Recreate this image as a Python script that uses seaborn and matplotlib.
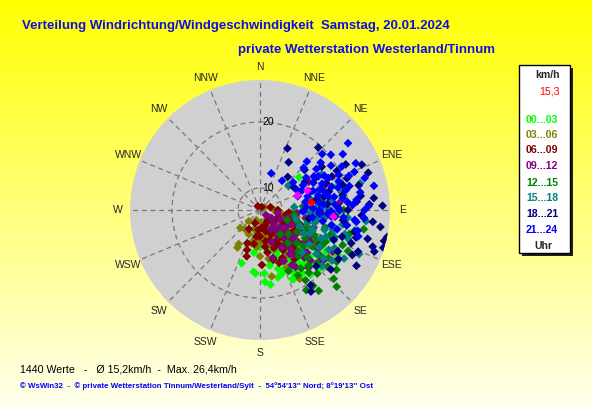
import numpy as np
import pandas as pd
import matplotlib
matplotlib.use("Agg")
import matplotlib.pyplot as plt
from matplotlib.patches import Rectangle
from matplotlib.transforms import offset_copy
import seaborn as sns

# wind direction (deg) / speed (km/h), grouped by hour
wind_00_03 = [(199, 16.0), (184, 17.0), (186, 16.8), (176, 17.0), (176, 18.1), (169, 13.8), (159, 15.2),
              (163, 16.7), (145, 16.3), (148, 16.0), (150, 16.6), (143, 15.8), (155, 18.6), (134, 16.3),
              (138, 17.0), (154, 18.7), (152, 17.8), (142, 19.3), (132, 18.8), (120, 20.2), (197, 9.6),
              (50, 15.2), (72, 19.3), (160, 14.5), (150, 14.8), (140, 14.5), (130, 15.5), (125, 17.5),
              (128, 14.0), (165, 17.8), (170, 16.0), (146, 17.4), (136, 18.2), (158, 17.0), (118, 16.0),
              (112, 18.5), (140, 16.2), (150, 13.5), (162, 12.5), (180, 13.0), (188, 14.0), (192, 12.0),
              (147, 16.8), (152, 16.2), (144, 17.2), (149, 15.6), (141, 17.8), (156, 16.0), (161, 17.5),
              (146, 18.6), (138, 15.5), (133, 17.6), (127, 16.5), (122, 18.8), (157, 14.2), (167, 15.5),
              (172, 18.5), (135, 19.5)]
wind_03_06 = [(211, 14.1), (195, 9.6), (177, 12.3), (165, 15.0), (170, 15.0), (150, 19.0), (212, 13.5),
              (205, 11.0), (190, 11.5), (180, 10.5), (160, 11.0), (150, 10.0), (140, 11.5), (130, 12.5),
              (120, 12.0), (110, 12.8), (100, 13.0), (95, 12.2), (105, 10.5), (135, 9.0), (155, 8.0),
              (175, 7.5), (200, 7.0), (225, 8.5), (120, 9.0), (145, 13.5), (160, 13.8), (135, 14.5),
              (125, 14.0), (115, 15.0), (150, 15.5), (140, 16.5), (165, 12.5), (185, 13.0), (90, 8.0),
              (60, 5.0), (228, 11.0), (218, 10.5), (170, 17.5), (155, 17.0), (145, 10.5), (130, 10.0),
              (115, 11.5), (125, 9.5), (150, 12.0), (170, 11.0), (185, 11.5), (140, 12.8), (160, 9.5),
              (100, 10.0), (195, 12.5), (180, 14.5)]
wind_06_09 = [(201, 12.7), (198, 13.8), (196, 14.8), (178, 15.8), (190, 12.5), (180, 11.0), (170, 12.0),
              (165, 10.0), (155, 11.0), (150, 12.5), (145, 10.5), (140, 13.0), (135, 12.0), (130, 14.0),
              (125, 11.5), (120, 13.5), (115, 12.5), (110, 14.0), (140, 15.5), (150, 14.5), (160, 13.5),
              (170, 14.0), (185, 9.5), (200, 8.0), (160, 8.5), (130, 9.0), (110, 9.5), (90, 9.0), (75, 7.0),
              (30, 4.0), (330, 4.5), (100, 11.0), (145, 16.5), (135, 17.0), (125, 16.0), (155, 15.5),
              (120, 17.5), (210, 10.0), (175, 9.0), (150, 8.0), (140, 7.5), (115, 15.5), (105, 13.0),
              (95, 11.5), (160, 16.0), (132, 12.8), (142, 12.0), (152, 13.2), (162, 12.0), (172, 13.0),
              (127, 13.2), (137, 15.0), (147, 14.0), (118, 11.0), (105, 12.0), (188, 11.0), (165, 15.3)]
wind_09_12 = [(130, 6.0), (125, 8.0), (135, 9.5), (130, 11.0), (128, 12.5), (135, 13.5), (130, 15.0),
              (138, 16.0), (132, 17.0), (135, 18.0), (140, 18.5), (128, 18.8), (122, 16.5), (118, 14.5),
              (112, 13.0), (105, 11.5), (100, 9.0), (145, 12.0), (150, 14.0), (155, 16.0), (148, 17.5),
              (160, 12.5), (120, 19.5), (115, 17.5), (108, 16.0), (100, 14.5), (95, 13.0), (90, 16.0),
              (80, 14.5), (70, 17.5), (60, 16.0), (85, 19.0), (142, 14.8), (125, 14.0), (128, 19.2),
              (150, 17.0), (150, 10.0), (115, 10.0), (110, 18.5), (140, 11.0), (165, 15.0), (126, 15.8),
              (133, 16.5), (137, 17.2), (124, 17.8), (131, 19.0), (119, 16.0), (127, 12.0), (143, 16.0),
              (133, 14.2), (117, 12.0), (139, 13.2), (146, 15.5)]
wind_12_15 = [(100.5, 21.9), (133, 21.4), (144, 21.3), (145, 20.5), (139, 18.3), (138, 19.7), (110, 15.0),
              (115, 16.5), (120, 18.0), (125, 17.0), (130, 16.0), (105, 17.5), (112, 19.0), (118, 20.0),
              (125, 19.5), (130, 20.0), (135, 17.5), (140, 16.5), (145, 18.0), (150, 18.5), (100, 16.0),
              (95, 18.0), (108, 13.5), (120, 14.0), (130, 13.0), (140, 14.0), (128, 21.0), (115, 21.0),
              (105, 20.5), (90, 19.5), (80, 17.0), (70, 15.5), (85, 14.0), (150, 20.5), (135, 22.2),
              (110, 11.5), (140, 12.0), (98, 12.5), (155, 17.5), (112, 16.0), (118, 17.0), (122, 15.5),
              (127, 18.5), (133, 18.8), (137, 16.0), (142, 19.0), (108, 18.5), (102, 14.8), (116, 18.2),
              (124, 20.5), (132, 15.0), (147, 19.5), (113, 20.2)]
wind_15_18 = [(75, 21.7), (90, 14.0), (95, 15.5), (100, 17.0), (105, 18.5), (110, 16.0), (115, 17.5),
              (120, 19.0), (125, 16.5), (100, 19.5), (108, 20.5), (95, 20.0), (88, 17.5), (92, 18.8),
              (112, 14.0), (118, 15.0), (128, 18.0), (132, 19.5), (104, 13.0), (85, 12.5), (80, 15.5),
              (72, 16.5), (65, 14.0), (60, 18.0), (78, 19.5), (102, 21.0), (96, 22.0), (114, 22.2),
              (120, 21.0), (125, 20.0), (110, 19.0), (98, 16.0), (135, 16.5), (50, 13.0), (105, 15.0),
              (97, 17.2), (103, 16.0), (107, 17.5), (112, 18.0), (117, 19.5), (122, 17.8), (93, 15.0),
              (88, 16.0), (83, 18.0), (102, 18.3), (115, 15.8), (127, 19.0), (106, 20.0)]
wind_18_21 = [(24, 17.5), (31, 15.9), (43, 19.7), (71, 22.8), (84, 22.8), (88, 23.6), (96, 22.7), (102, 24.3),
              (104, 24.1), (108, 23.2), (106, 21.3), (116, 21.6), (148, 20.9), (146, 20.3), (56, 13.6),
              (60, 17.0), (65, 19.0), (70, 20.5), (75, 18.0), (80, 19.5), (85, 21.0), (90, 20.0), (95, 18.5),
              (100, 20.0), (105, 22.5), (110, 21.0), (112, 19.0), (118, 20.0), (120, 22.5), (122, 20.5),
              (92, 16.5), (80, 16.0), (70, 15.5), (62, 21.0), (55, 18.5), (48, 16.5), (40, 14.0), (98, 23.5),
              (110, 23.5), (107, 24.2), (130, 20.5), (135, 19.0), (85, 17.5), (66, 22.5), (76, 21.5),
              (100, 15.0), (68, 18.0), (73, 19.8), (78, 17.2), (82, 21.5), (88, 18.8), (93, 21.5),
              (97, 19.5), (103, 21.0), (108, 19.8), (113, 22.0), (87, 22.3), (63, 19.8), (58, 15.5)]
wind_21_24 = [(52.8, 22.4), (56, 21.3), (52, 20.2), (52, 18.7), (17, 13.2), (37, 12.9), (46, 16.6), (88, 22.2),
              (94.5, 21.8), (102, 21.3), (64, 22.0), (60, 17.5), (65, 18.5), (70, 19.5), (75, 20.5),
              (80, 21.5), (85, 20.0), (90, 19.0), (95, 18.0), (100, 17.0), (70, 16.0), (75, 17.5), (80, 18.5),
              (85, 17.0), (90, 16.5), (95, 19.5), (100, 20.0), (60, 15.0), (55, 16.0), (65, 14.5), (70, 13.5),
              (80, 14.5), (88, 15.5), (92, 14.0), (98, 15.5), (58, 19.5), (62, 20.5), (68, 21.5), (73, 22.3),
              (78, 23.0), (84, 21.0), (90, 21.8), (96, 20.8), (104, 19.0), (48, 19.5), (44, 17.5), (50, 14.0),
              (76, 16.5), (82, 19.5), (67, 17.5), (86, 18.5), (93, 17.5), (72, 18.5), (63, 16.5), (105, 21.5),
              (58, 17.0), (62, 18.2), (66, 19.8), (71, 17.0), (74, 19.2), (77, 20.0), (79, 17.8), (83, 16.5),
              (87, 20.5), (91, 18.0), (94, 16.5), (97, 21.0), (102, 18.2), (69, 20.8), (54, 17.8), (61, 13.8),
              (74, 15.0), (86, 14.5)]
highlight = [(67, 15.3), (95, 18.3), (68, 13.5)]
current = [(81, 15.3)]

hour_labels = ["00...03", "03...06", "06...09", "09...12", "12...15", "15...18", "18...21", "21...24"]
hour_colors = ["#00FF00", "#808000", "#800000", "#800080", "#008000", "#008080", "#000080", "#0000FF"]
compass = ["N", "NNE", "NE", "ENE", "E", "ESE", "SE", "SSE",
           "S", "SSW", "SW", "WSW", "W", "WNW", "NW", "NNW"]
ring_ticks = [10, 20]
r_max = 24.3

sns.set_theme(style="white")
plt.rcParams["font.family"] = ["Liberation Sans", "DejaVu Sans"]

groups = [wind_00_03, wind_03_06, wind_06_09, wind_09_12, wind_12_15, wind_15_18, wind_18_21, wind_21_24]
rows = []
for lab, pts in zip(hour_labels, groups):
    for d, v in pts:
        rows.append((lab, np.deg2rad(d), v))
df = pd.DataFrame(rows, columns=["hours", "theta", "speed"])

W, H = 592, 407
fig = plt.figure(figsize=(W / 100, H / 100), dpi=100)

# yellow -> pale background
bg = fig.add_axes([0, 0, 1, 1], zorder=-10)
img = np.ones((256, 1, 3))
img[:, 0, 2] = np.linspace(0, 0.93, 256)
bg.imshow(img, aspect="auto", extent=[0, 1, 0, 1], origin="upper")
bg.axis("off")

ax = fig.add_axes([130 / W, 67 / H, 260 / W, 260 / H], projection="polar")
ax.set_facecolor("#D0D0D0")
ax.set_theta_zero_location("N")
ax.set_theta_direction(-1)
# rings are squared: 10 km/h sits a quarter of the way to 20 km/h
ax.set_rscale("function", functions=(lambda v: v ** 2, lambda r: np.sqrt(np.clip(r, 0, None))))

sns.scatterplot(data=df, x="theta", y="speed", hue="hours", palette=dict(zip(hour_labels, hour_colors)),
                marker="D", s=20, linewidth=0, legend=False, ax=ax)
ax.scatter([np.deg2rad(d) for d, v in highlight], [v for d, v in highlight], marker="D", s=20,
           color="#FF00FF", linewidth=0)
ax.scatter([np.deg2rad(d) for d, v in current], [v for d, v in current], marker="D", s=20,
           color="#FF0000", linewidth=0)

ax.set_rlim(0, r_max)
ax.set_thetagrids(np.arange(0, 360, 22.5), compass, fontsize=7.5)
ax.tick_params(axis="x", size=0, pad=2)
ax.set_yticks(ring_ticks)
ax.set_yticklabels([])
ax.grid(True, color="#787878", linestyle=(0, (4, 3)), linewidth=0.9)
ax.spines["polar"].set_visible(False)
ax.set_axisbelow(True)
ax.set_xlabel("")
ax.set_ylabel("")
tr = offset_copy(ax.transData, fig=fig, x=2, y=0, units="dots")
for t in ring_ticks:
    ax.text(0, t, str(t), transform=tr, ha="left", va="center", fontsize=7.5, color="black")


def px(x, y):
    return x / W, 1 - y / H


blue = "#1010E0"
fig.text(*px(22, 26), "Verteilung Windrichtung/Windgeschwindigkeit  Samstag, 20.01.2024",
         color=blue, fontsize=9.5, fontweight="bold", ha="left", va="center")
fig.text(*px(238, 50), "private Wetterstation Westerland/Tinnum",
         color=blue, fontsize=9.5, fontweight="bold", ha="left", va="center")
fig.text(*px(20, 370), "1440 Werte   -   Ø 15,2km/h  -  Max. 26,4km/h",
         color="black", fontsize=7.7, ha="left", va="center")
fig.text(*px(20, 386), "© WsWin32  -  © private Wetterstation Tinnum/Westerland/Sylt  -  "
         "54°54'13'' Nord; 8°19'13'' Ost", color="#0000FF", fontsize=5.65, fontweight="bold",
         ha="left", va="center")

# legend box with shadow
fig.add_artist(Rectangle(px(522, 256), 51 / W, 188 / H, transform=fig.transFigure,
                         facecolor="#202020", edgecolor="none"))
fig.add_artist(Rectangle(px(519, 253), 51 / W, 188 / H, transform=fig.transFigure,
                         facecolor="white", edgecolor="black", linewidth=1))
fig.text(*px(547, 75), "km/h", fontsize=7.6, fontweight="bold", ha="center", va="center")
fig.text(*px(560, 92), "15,3", fontsize=7.6, color="red", ha="right", va="center")
leg_y = [120, 135, 150, 166, 183, 198, 214, 230]
for lab, col, y in zip(hour_labels, hour_colors, leg_y):
    fig.text(*px(526, y), lab, fontsize=7.6, fontweight="bold", color=col, ha="left", va="center")
fig.text(*px(543, 246), "Uhr", fontsize=7.6, fontweight="bold", ha="center", va="center")

fig.savefig("out.png", dpi=100)
